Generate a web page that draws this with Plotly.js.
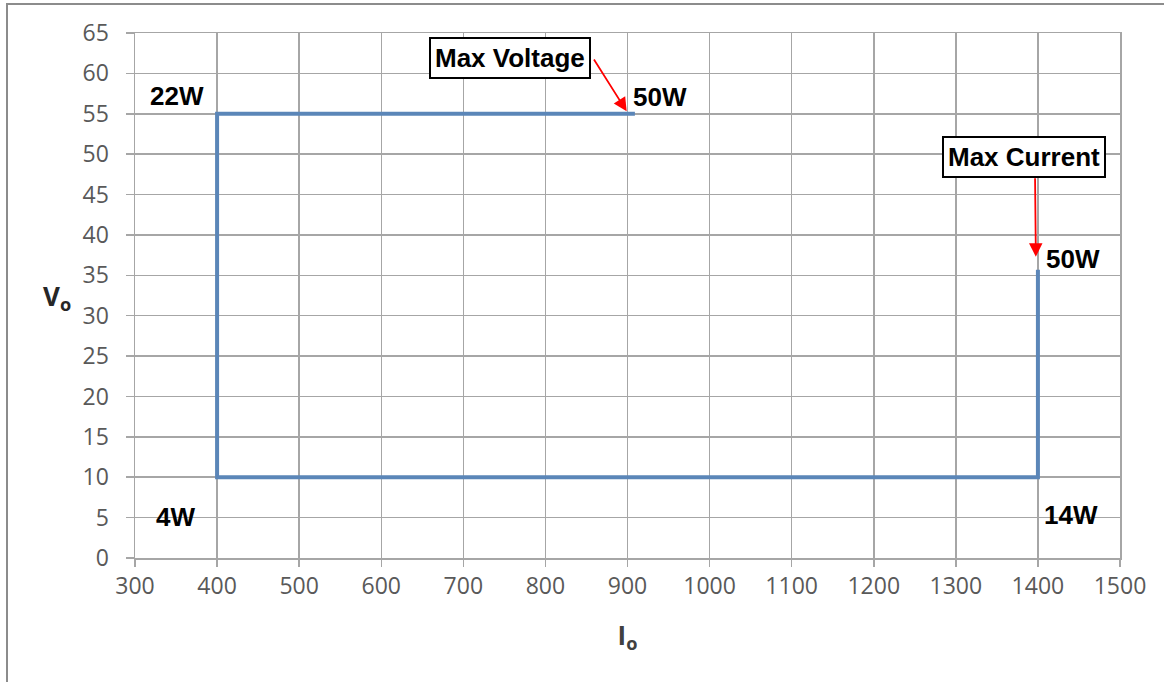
<!DOCTYPE html>
<html>
<head>
<meta charset="utf-8">
<script src="https://cdn.plot.ly/plotly-3.0.1.min.js"></script>
<style>
  html, body { margin: 0; padding: 0; background: #fff; }
  #chart { width: 1164px; height: 682px; }
  #frame { position: absolute; left: 6px; top: 3px; width: 1200px; height: 720px;
           border-left: 2px solid #8c8c8c; border-top: 2px solid #8c8c8c; pointer-events: none; }
</style>
</head>
<body>
<div id="chart"></div>
<div id="frame"></div>
<script>
// Operating envelope: output current Io (mA) vs output voltage Vo (V)
const currentIo = [909, 400, 400, 1400, 1400];
const voltageVo = [55, 55, 10, 10, 35.7];

const xTicks = [300, 400, 500, 600, 700, 800, 900, 1000, 1100, 1200, 1300, 1400, 1500];
const yTicks = [0, 5, 10, 15, 20, 25, 30, 35, 40, 45, 50, 55, 60, 65];

const powerLabels = ["22W", "50W", "50W", "4W", "14W"];
const powerLabelX = [351, 940, 1443, 349, 1440];
const powerLabelY = [57.2, 57.1, 37.0, 5.1, 5.3];

const calloutText = ["Max Voltage", "Max Current"];
const calloutX = [757, 1383];
const calloutY = [61.9, 49.6];
const arrowTailX = [858, 1396.5];
const arrowTailY = [61.9, 47.2];
const arrowHeadX = [899, 1397.5];
const arrowHeadY = [55.3, 37.3];

const trace = {
  x: currentIo,
  y: voltageVo,
  type: 'scatter',
  mode: 'lines',
  line: { color: '#5b86b8', width: 4 },
  hoverinfo: 'x+y'
};

const boldFont = { family: 'Liberation Sans, Arial, sans-serif', size: 26, color: '#000' };
const annotations = [];
powerLabels.forEach((t, i) => {
  annotations.push({
    x: powerLabelX[i], y: powerLabelY[i], xref: 'x', yref: 'y',
    text: '<b>' + t + '</b>', showarrow: false, font: boldFont
  });
});
calloutText.forEach((t, i) => {
  annotations.push({
    x: arrowHeadX[i], y: arrowHeadY[i], xref: 'x', yref: 'y',
    ax: arrowTailX[i], ay: arrowTailY[i], axref: 'x', ayref: 'y',
    text: '', showarrow: true, arrowcolor: '#ff0000', arrowwidth: 1.8,
    arrowhead: 2, arrowsize: 1.5, standoff: 0, startstandoff: 0
  });
  annotations.push({
    x: calloutX[i], y: calloutY[i], xref: 'x', yref: 'y',
    text: '<b>' + t + '</b>', showarrow: false,
    bgcolor: '#ffffff', bordercolor: '#000000', borderwidth: 2, borderpad: 4,
    font: boldFont
  });
});
// horizontal y-axis title (as in the reference)
annotations.push({
  x: -0.063, y: 0.498, xref: 'paper', yref: 'paper', xanchor: 'right',
  text: '<b>V<sub>o</sub></b>', showarrow: false,
  font: { family: 'Open Sans, sans-serif', size: 26, color: '#262626' }
});

const tickFont = { family: 'Open Sans, sans-serif', size: 23, color: '#595959' };

const layout = {
  width: 1164, height: 682,
  margin: { l: 135, r: 44, t: 33, b: 124 },
  paper_bgcolor: '#ffffff', plot_bgcolor: '#ffffff',
  showlegend: false,
  xaxis: {
    range: [300, 1500], tickvals: xTicks, ticktext: xTicks.map(String),
    showgrid: true, gridcolor: '#a6a6a6', gridwidth: 1.5,
    zeroline: false, showline: true, linecolor: '#a6a6a6', linewidth: 1.5, mirror: true,
    ticks: 'outside', ticklen: 7, tickcolor: '#a6a6a6', tickwidth: 1.5,
    ticklabelstandoff: 0,
    tickfont: tickFont,
    title: { text: '<b>I<sub>o</sub></b>', font: { family: 'Open Sans, sans-serif', size: 26, color: '#404040' }, standoff: 26 }
  },
  yaxis: {
    range: [0, 65], tickvals: yTicks, ticktext: yTicks.map(String),
    showgrid: true, gridcolor: '#a6a6a6', gridwidth: 1.5,
    zeroline: false, showline: true, linecolor: '#a6a6a6', linewidth: 1.5, mirror: true,
    ticks: 'outside', ticklen: 8, tickcolor: '#a6a6a6', tickwidth: 1.5,
    ticklabelstandoff: 12,
    tickfont: tickFont
  },
  annotations: annotations
};

Plotly.newPlot('chart', [trace], layout, { displayModeBar: false, staticPlot: true });
</script>
</body>
</html>
